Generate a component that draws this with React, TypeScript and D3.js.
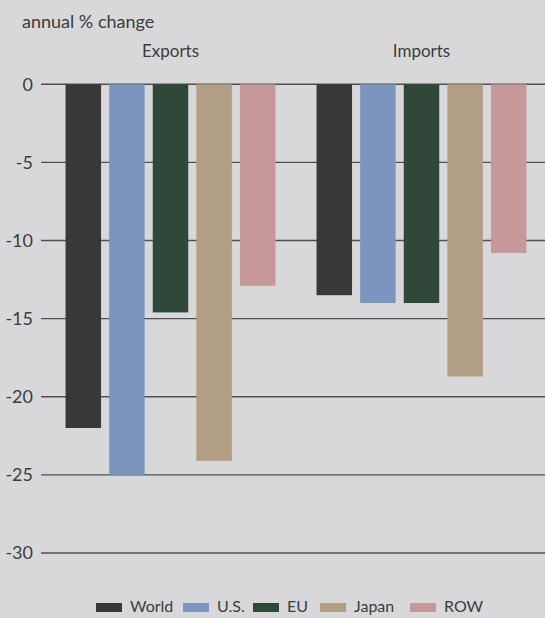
import React from "react";
import * as d3 from "d3";

const groups = ["Exports", "Imports"];
const series = ["World", "U.S.", "EU", "Japan", "ROW"];
const exportsValues = [-22.0, -25.0, -14.6, -24.1, -12.9];
const importsValues = [-13.5, -14.0, -14.0, -18.7, -10.8];
const yTicks = [0, -5, -10, -15, -20, -25, -30];
const colors = ["#393737", "#7c95bf", "#2f4839", "#b19e85", "#c6989a"];
const yTitle = "annual % change";

const W = 545;
const H = 618;
const FONT = "Lato, 'Open Sans', sans-serif";
const TEXT = "#3c3c3c";

export default function App() {
  const y = d3.scaleLinear().domain([0, -30]).range([84.3, 553]);
  const xGroup = d3.scaleBand<string>().domain(groups).range([45, 547]).padding(0);
  const xSeries = d3
    .scaleBand<string>()
    .domain(series)
    .range([0, xGroup.bandwidth()])
    .paddingInner(0.186)
    .paddingOuter(0.471);

  const valuesByGroup: Record<string, number[]> = {
    Exports: exportsValues,
    Imports: importsValues,
  };

  const legendX = [96, 183, 253, 320, 410];

  return (
    <div style={{ position: "fixed", left: 0, top: 0 }}>
      <svg width={W} height={H} style={{ display: "block" }}>
        <rect x={0} y={0} width={W} height={H} fill="#d8d8da" />
        <text x={22} y={28} fontFamily={FONT} fontSize={18} fill={TEXT}>
          {yTitle}
        </text>
        {groups.map((g) => (
          <text
            key={g}
            x={(xGroup(g) as number) + xGroup.bandwidth() / 2}
            y={57}
            textAnchor="middle"
            fontFamily={FONT}
            fontSize={17}
            fill={TEXT}
          >
            {g}
          </text>
        ))}
        {yTicks.map((t) => (
          <g key={t}>
            <line x1={41} x2={W} y1={y(t)} y2={y(t)} stroke="#505050" strokeWidth={1.4} />
            <text
              x={33}
              y={y(t)}
              dy="0.35em"
              textAnchor="end"
              fontFamily={FONT}
              fontSize={18}
              fill={TEXT}
            >
              {t === 0 ? "0" : String(t)}
            </text>
          </g>
        ))}
        {groups.map((g) =>
          valuesByGroup[g].map((v, i) => (
            <rect
              key={g + i}
              x={(xGroup(g) as number) + (xSeries(series[i]) as number)}
              y={y(0)}
              width={xSeries.bandwidth()}
              height={y(v) - y(0)}
              fill={colors[i]}
            />
          ))
        )}
        {series.map((s, i) => (
          <g key={s}>
            <rect x={legendX[i]} y={603} width={26} height={9} fill={colors[i]} />
            <text
              x={legendX[i] + 34}
              y={612}
              fontFamily={FONT}
              fontSize={16}
              fill={TEXT}
            >
              {s}
            </text>
          </g>
        ))}
      </svg>
    </div>
  );
}
